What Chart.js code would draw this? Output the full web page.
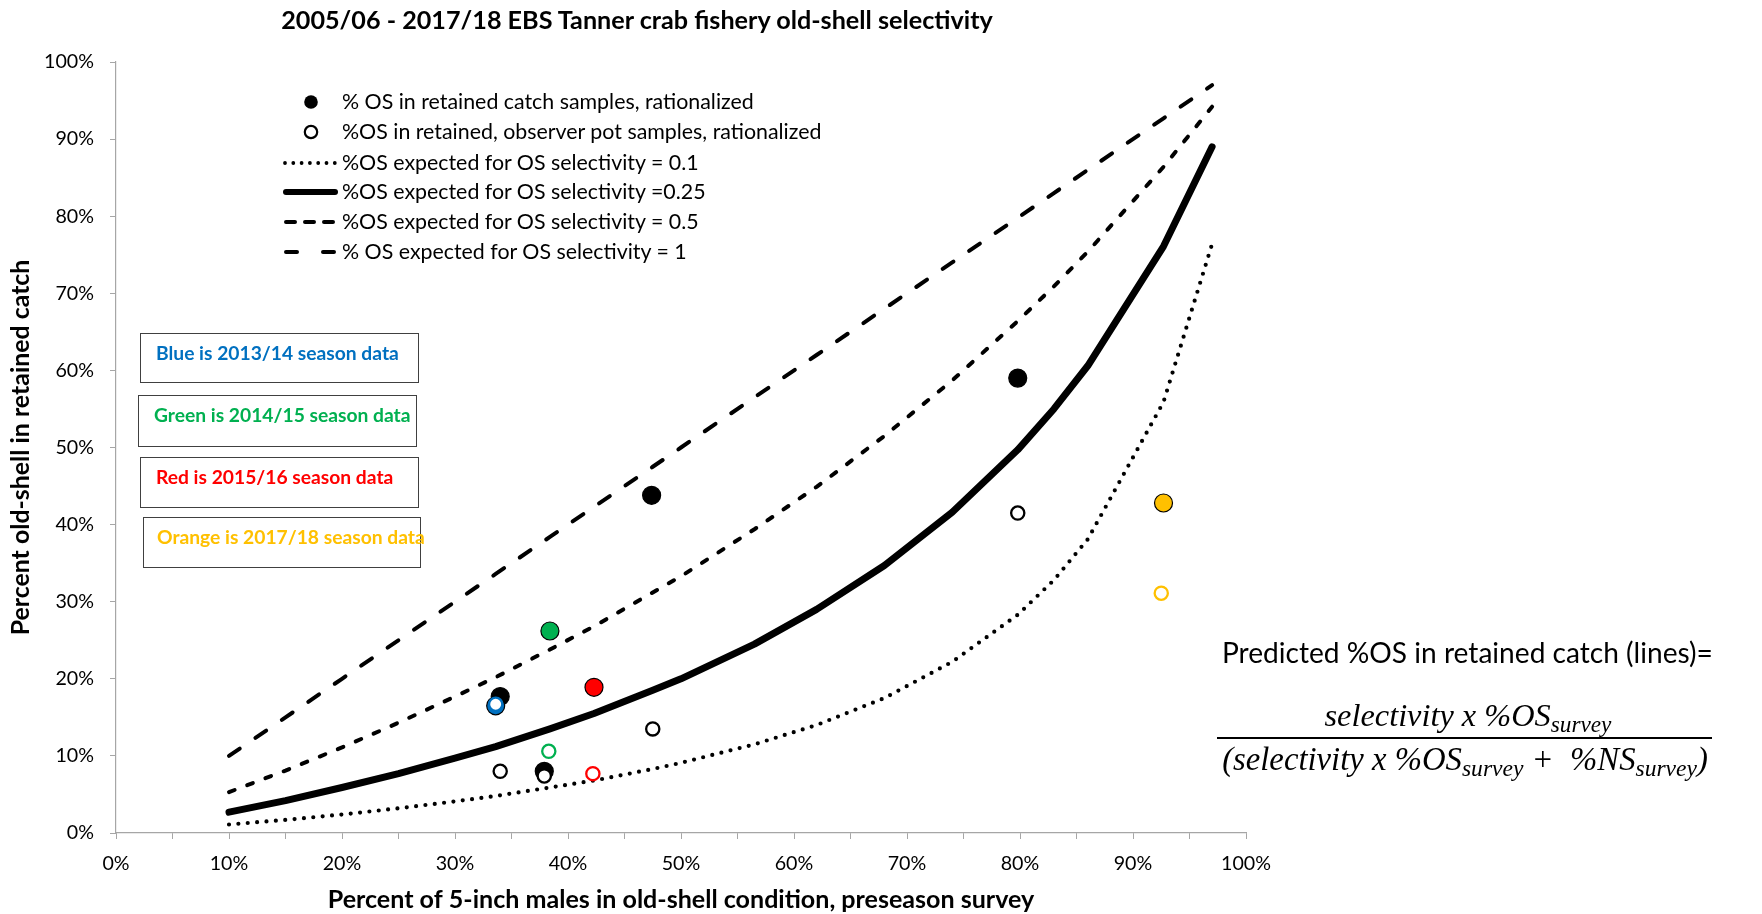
<!DOCTYPE html>
<html><head><meta charset="utf-8">
<script src="https://cdn.jsdelivr.net/npm/chart.js@4.4.1/dist/chart.umd.min.js"></script>
<style>
html,body{margin:0;padding:0;background:#fff}
#wrap{position:relative;width:1762px;height:914px;overflow:hidden;font-family:Lato,"Noto Sans",sans-serif;color:#000}
#c{position:absolute;left:0;top:0}
.abs{position:absolute;white-space:nowrap;line-height:1}
.vc{transform:translateY(-50%)}
.cc{transform:translate(-50%,-50%)}
.box{position:absolute;border:1px solid #404040;box-sizing:border-box;background:transparent}
.eq{font-family:"Liberation Serif","DejaVu Serif",serif;font-style:italic}
.eq sub{font-size:0.72em;vertical-align:-0.28em;line-height:0}
</style></head>
<body>
<div id="wrap">
<canvas id="c" width="1762" height="914"></canvas>
</div>
<script>
// ---------------- data ----------------
const chartTitle = '2005/06 - 2017/18 EBS Tanner crab fishery old-shell selectivity';
const xTitle = 'Percent of 5-inch males in old-shell condition, preseason survey';
const yTitle = 'Percent old-shell in retained catch';
const xTickLabels = ['0%','10%','20%','30%','40%','50%','60%','70%','80%','90%','100%'];
const yTickLabels = ['0%','10%','20%','30%','40%','50%','60%','70%','80%','90%','100%'];

const legendLabels = [
  '% OS in retained catch samples, rationalized',
  '%OS in retained, observer pot samples, rationalized',
  '%OS expected for OS selectivity = 0.1',
  '%OS expected for OS selectivity =0.25',
  '%OS expected for OS selectivity = 0.5',
  '% OS expected for OS selectivity = 1'
];
const seasonLabels = ['Blue is 2013/14 season data','Green is 2014/15 season data','Red is 2015/16 season data','Orange is 2017/18 season data'];
const seasonColors = ['#0070c0','#00b050','#ff0000','#ffc000'];

// expected-curve vertices (survey %OS)
const lineX  = [0.10,0.15,0.20,0.25,0.30,0.336,0.384,0.423,0.475,0.50,0.565,0.62,0.68,0.74,0.798,0.83,0.86,0.927,0.97];
const sel01  = [0.011,0.017,0.024,0.032,0.041,0.048,0.059,0.068,0.083,0.091,0.115,0.140,0.175,0.222,0.283,0.328,0.381,0.559,0.764];
const sel025 = [0.027,0.042,0.059,0.077,0.097,0.112,0.135,0.155,0.185,0.200,0.245,0.290,0.347,0.416,0.497,0.550,0.606,0.761,0.890];
const sel05  = [0.053,0.081,0.111,0.143,0.177,0.202,0.238,0.268,0.312,0.333,0.394,0.449,0.515,0.587,0.664,0.709,0.754,0.864,0.942];
const sel1   = [0.10,0.15,0.20,0.25,0.30,0.336,0.384,0.423,0.475,0.50,0.565,0.62,0.68,0.74,0.798,0.83,0.86,0.927,0.97];

// retained catch samples (filled)
const catchX = [0.340,0.336,0.379,0.474,0.384,0.423,0.798,0.927];
const catchY = [0.177,0.165,0.080,0.438,0.262,0.189,0.590,0.428];
const catchColors = ['#000000','#0070c0','#000000','#000000','#00b050','#ff0000','#000000','#ffc000'];
// observer pot samples (open)
const obsX = [0.340,0.379,0.336,0.475,0.383,0.422,0.798,0.925];
const obsY = [0.080,0.074,0.167,0.135,0.106,0.077,0.415,0.311];
const obsColors = ['#000000','#000000','#0070c0','#000000','#00b050','#ff0000','#000000','#ffc000'];

// ---------------- helpers ----------------
const mctx = document.createElement('canvas').getContext('2d');
function fitPx(text, weight, family, target){ mctx.font = weight+' 100px '+family; return 100*target/mctx.measureText(text).width; }
const pts = (xs, ys) => xs.map((x, i) => ({x: x, y: ys[i]}));
const wrap = document.getElementById('wrap');
function addText(html, cls, style, fitW){
  const d = document.createElement('div');
  d.className = 'abs ' + cls;
  d.innerHTML = html;
  Object.assign(d.style, style);
  wrap.appendChild(d);
  if (fitW){ const fs = parseFloat(d.style.fontSize); const w = d.getBoundingClientRect().width; d.style.fontSize = (fs*fitW/w)+'px'; }
  return d;
}

// ---------------- overlays ----------------
addText(chartTitle, 'cc', {left:'637px', top:'20px', fontSize:'20px', fontWeight:'bold'}, 712);

// legend
const legY = [102,132,162.5,192,222,252];
const legFont = fitPx(legendLabels[0], 'normal', 'Lato', 412);
const samples = [
  '<svg width="60" height="20"><circle cx="28" cy="10" r="6.8" fill="#000"/></svg>',
  '<svg width="60" height="20"><circle cx="28" cy="10" r="6.2" fill="#fff" stroke="#000" stroke-width="2.2"/></svg>',
  '<svg width="60" height="20"><line x1="2" y1="10" x2="52" y2="10" stroke="#000" stroke-width="3.8" stroke-linecap="round" stroke-dasharray="0 8.3"/></svg>',
  '<svg width="60" height="20"><line x1="3" y1="10" x2="52" y2="10" stroke="#000" stroke-width="6" stroke-linecap="round"/></svg>',
  '<svg width="60" height="20"><line x1="3" y1="10" x2="52" y2="10" stroke="#000" stroke-width="4" stroke-linecap="round" stroke-dasharray="9 10"/></svg>',
  '<svg width="60" height="20"><line x1="3" y1="10" x2="52" y2="10" stroke="#000" stroke-width="4" stroke-linecap="round" stroke-dasharray="11 26"/></svg>'
];
legendLabels.forEach((t, i) => {
  const s = document.createElement('div');
  s.className = 'abs';
  Object.assign(s.style, {left:'283px', top:(legY[i]-10)+'px', width:'60px', height:'20px'});
  s.innerHTML = samples[i];
  wrap.appendChild(s);
  addText(t, 'vc', {left:'342px', top:legY[i]+'px', fontSize:legFont+'px'});
});

// season boxes
const boxGeom = [[140,333,279,50,16],[138,395,279,52,16],[140,457,279,51,16],[143,517,278,51,14]];
const seasonFont = fitPx(seasonLabels[0], 'bold', 'Lato', 243);
seasonLabels.forEach((t, i) => {
  const g = boxGeom[i];
  const b = document.createElement('div');
  b.className = 'box';
  Object.assign(b.style, {left:g[0]+'px', top:g[1]+'px', width:g[2]+'px', height:g[3]+'px'});
  wrap.appendChild(b);
  addText(t, 'vc', {left:(g[0]+g[4])+'px', top:(g[1]+20)+'px', fontSize:seasonFont+'px', fontWeight:'bold', color:seasonColors[i]});
});

// equation
addText('Predicted %OS in retained catch (lines)=', 'vc', {left:'1222px', top:'652px', fontSize:'24px'}, 491);
addText('selectivity x %OS<sub>survey</sub>', 'eq cc', {left:'1468px', top:'715px', fontSize:'25px'}, 287);
const fl = document.createElement('div');
Object.assign(fl.style, {position:'absolute', left:'1217px', top:'737px', width:'495px', height:'1.6px', background:'#000'});
wrap.appendChild(fl);
addText('(selectivity x %OS<sub>survey</sub> + &nbsp;%NS<sub>survey</sub>)', 'eq cc', {left:'1465px', top:'759px', fontSize:'25px'}, 486);

// ---------------- chart ----------------
const tickPx = fitPx('100%', 'normal', 'Lato', 50);
const xTitlePx = fitPx(xTitle, 'bold', 'Lato', 707);
const yTitlePx = fitPx(yTitle, 'bold', 'Lato', 376);
const axisGray = '#a6a6a6';

new Chart(document.getElementById('c'), {
  type: 'scatter',
  data: {
    datasets: [
      {label: legendLabels[1], data: pts(obsX, obsY), showLine:false, pointRadius:6.6, pointHoverRadius:6.6, pointBorderWidth:2.3,
       pointBackgroundColor:'#ffffff', pointBorderColor: obsColors, order:0},
      {label: legendLabels[0], data: pts(catchX, catchY), showLine:false, pointRadius:9, pointHoverRadius:9, pointBorderWidth:1.2,
       pointBackgroundColor: catchColors, pointBorderColor:'#000000', order:1},
      {label: legendLabels[5], data: pts(lineX, sel1), showLine:true, borderColor:'#000', borderWidth:4, borderDash:[13,19],
       borderCapStyle:'round', borderJoinStyle:'round', pointRadius:0, tension:0, fill:false, order:2},
      {label: legendLabels[4], data: pts(lineX, sel05), showLine:true, borderColor:'#000', borderWidth:4, borderDash:[6,13.5],
       borderCapStyle:'round', borderJoinStyle:'round', pointRadius:0, tension:0, fill:false, order:3},
      {label: legendLabels[3], data: pts(lineX, sel025), showLine:true, borderColor:'#000', borderWidth:7,
       borderCapStyle:'round', borderJoinStyle:'round', pointRadius:0, tension:0, fill:false, order:4},
      {label: legendLabels[2], data: pts(lineX, sel01), showLine:true, borderColor:'#000', borderWidth:4.2, borderDash:[0,9.4],
       borderCapStyle:'round', borderJoinStyle:'round', pointRadius:0, tension:0, fill:false, order:5}
    ]
  },
  options: {
    responsive:false, animation:false, events:[],
    layout:{padding:{left:0, right:516, top:62, bottom:0}},
    plugins:{legend:{display:false}, tooltip:{enabled:false}, title:{display:false}},
    scales:{
      x:{
        type:'linear', min:0, max:1,
        afterFit: s => { s.height = 81; },
        grid:{display:true, drawOnChartArea:false, drawTicks:true, tickLength:6, color:axisGray, lineWidth:1},
        border:{display:true, color:axisGray, width:1.2},
        ticks:{stepSize:0.05, autoSkip:false, maxRotation:0, minRotation:0, padding:13, color:'#000',
          font:{family:'Lato', size:tickPx},
          callback: v => { const p = Math.round(v*100); return p % 10 === 0 ? xTickLabels[p/10] : ''; }},
        title:{display:true, text:xTitle, color:'#000', font:{family:'Lato', size:xTitlePx, weight:'bold'},
          padding:{top:0, bottom: 14 - xTitlePx*0.6}}
      },
      y:{
        type:'linear', min:0, max:1,
        afterFit: s => { s.width = 116; },
        grid:{display:true, drawOnChartArea:false, drawTicks:true, tickLength:6, color:axisGray, lineWidth:1},
        border:{display:true, color:axisGray, width:1.2},
        ticks:{stepSize:0.1, padding:16, color:'#000', font:{family:'Lato', size:tickPx},
          callback: v => yTickLabels[Math.round(v*10)]},
        title:{display:true, text:yTitle, color:'#000', font:{family:'Lato', size:yTitlePx, weight:'bold'},
          padding:{top: 21 - yTitlePx*0.6, bottom:0}}
      }
    }
  }
});
</script>
</body></html>
